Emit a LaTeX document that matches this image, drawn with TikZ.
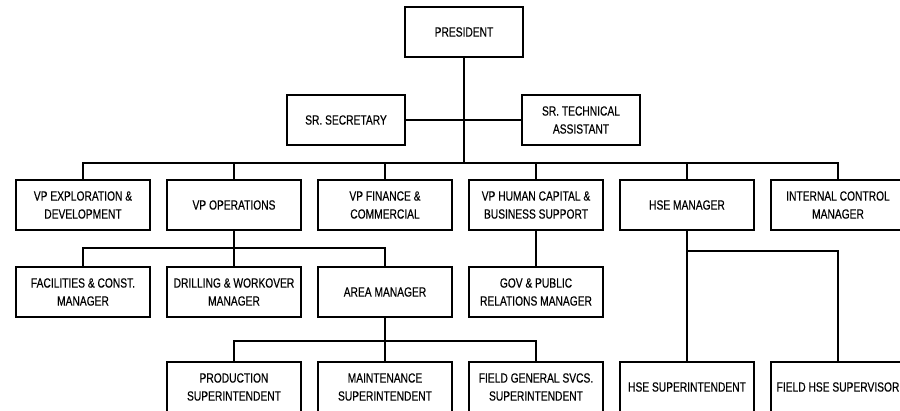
\documentclass[tikz,border=0pt]{standalone}
\usepackage{fontspec}
\setmainfont{Liberation Sans}[FakeStretch=0.77,FakeBold=0.4]
\usetikzlibrary{positioning}
\begin{document}
\begin{tikzpicture}[x=1pt ,y=1pt ,node distance =87pt and 151pt ,on grid ,
line width=1.6pt ,
box/.style ={ rectangle ,draw ,line width=2.2pt ,align=center ,
minimum width =134pt ,minimum height =50pt ,inner sep=2pt ,
font=\fontsize{13.3}{18}\selectfont},
topbox/.style ={ box ,minimum width =118pt}]
\useasboundingbox (0,0) rectangle (900,-410);
\node[topbox] (P) at (464,-32) {PRESIDENT};
\node[topbox] (SS) [below left = 88pt and 118pt of P] {SR. SECRETARY};
\node[topbox] (STA) [below right = 88pt and 117pt of P] {SR. TECHNICAL\\ASSISTANT};
\coordinate [below = 131pt of P] (J);
\node[box] (VPE) at (83,-205) {VP EXPLORATION \&\\DEVELOPMENT};
\node[box] (VPO) [right = of VPE] {VP OPERATIONS};
\node[box] (VPF) [right = of VPO] {VP FINANCE \&\\COMMERCIAL};
\node[box] (VPH) [right = of VPF] {VP HUMAN CAPITAL \&\\BUSINESS SUPPORT};
\node[box] (HSE) [right = of VPH] {HSE MANAGER};
\node[box] (ICM) [right = of HSE] {INTERNAL CONTROL\\MANAGER};
\node[box] (FAC) [below = of VPE] {FACILITIES \& CONST.\\MANAGER};
\node[box] (DWM) [below = of VPO] {DRILLING \& WORKOVER\\MANAGER};
\node[box] (AM) [below = of VPF] {AREA MANAGER};
\node[box] (GOV) [below = of VPH] {GOV \& PUBLIC\\RELATIONS MANAGER};
\node[box] (PS) [below = 95pt of DWM] {PRODUCTION\\SUPERINTENDENT};
\node[box] (MS) [below = 95pt of AM] {MAINTENANCE\\SUPERINTENDENT};
\node[box] (FGS) [below = 95pt of GOV] {FIELD GENERAL SVCS.\\SUPERINTENDENT};
\node[box] (HSES) [below = 182pt of HSE] {HSE SUPERINTENDENT};
\node[box] (FHS) [below = 182pt of ICM] {FIELD HSE SUPERVISOR};
\coordinate [below = 43pt of VPO] (JO);
\coordinate [below = 49pt of AM] (JA);
\coordinate [below = 46pt of HSE] (JH);
\draw (P) -- (J);
\draw (SS) -- (STA);
\foreach \n in {VPE,VPO,VPF,VPH,HSE,ICM}
  \draw (J) -| (\n);
\draw (VPO) -- (JO);
\foreach \n in {FAC,DWM,AM}
  \draw (JO) -| (\n);
\draw (VPH) -- (GOV);
\draw (AM) -- (JA);
\foreach \n in {PS,MS,FGS}
  \draw (JA) -| (\n);
\draw (HSE) -- (HSES);
\draw (JH) -| (FHS);
\end{tikzpicture}
\end{document}
